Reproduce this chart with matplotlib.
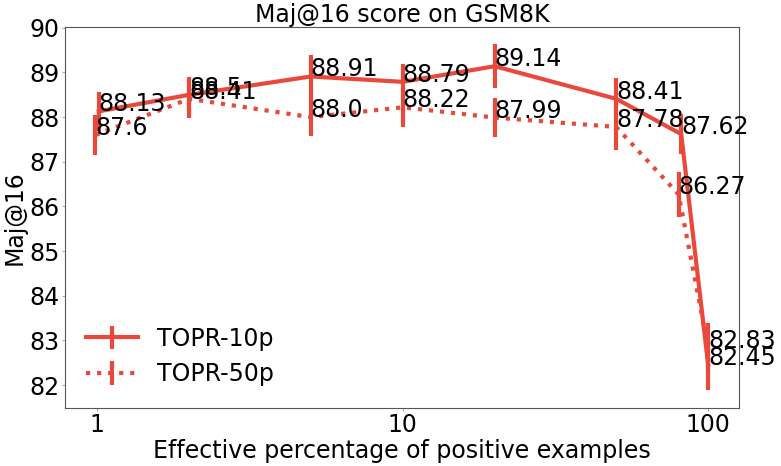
import matplotlib
matplotlib.use("Agg")
import matplotlib.pyplot as plt
from matplotlib.ticker import FixedLocator, FixedFormatter, NullLocator, MultipleLocator

x_10p = [1.012, 2, 5, 10, 20, 50, 81.6, 100]
y_10p = [88.13, 88.5, 88.91, 88.79, 89.14, 88.41, 87.62, 82.45]
e_10p = [0.44, 0.39, 0.48, 0.41, 0.49, 0.46, 0.45, 0.57]

x_50p = [0.987, 2, 5, 10, 20, 50, 80, 100]
y_50p = [87.6, 88.41, 88.0, 88.22, 87.99, 87.78, 86.27, 82.83]
e_50p = [0.44, 0.42, 0.43, 0.44, 0.44, 0.51, 0.5, 0.56]

xticks = [1, 10, 100]
xticklabels = ["1", "10", "100"]

color = "#e8493b"
fs = 17

fig, ax = plt.subplots(figsize=(7.81, 4.66), dpi=100)
ax.errorbar(x_10p, y_10p, yerr=e_10p, color=color, lw=3, elinewidth=3,
            linestyle="-", label="TOPR-10p")
ax.errorbar(x_50p, y_50p, yerr=e_50p, color=color, lw=3, elinewidth=3,
            linestyle=":", label="TOPR-50p")
for xs, ys in ((x_10p, y_10p), (x_50p, y_50p)):
    for xv, yv in zip(xs, ys):
        ax.text(xv, yv, str(yv), fontsize=fs, color="black")

ax.set_xscale("log")
ax.xaxis.set_major_locator(FixedLocator(xticks))
ax.xaxis.set_major_formatter(FixedFormatter(xticklabels))
ax.xaxis.set_minor_locator(NullLocator())
ax.yaxis.set_major_locator(MultipleLocator(1))
ax.set_title("Maj@16 score on GSM8K", fontsize=fs, pad=3)
ax.set_xlabel("Effective percentage of positive examples", fontsize=fs, labelpad=2)
ax.set_ylabel("Maj@16", fontsize=fs, labelpad=2)
ax.tick_params(labelsize=fs, color="#aaaaaa", length=2, pad=1.5)
for s in ax.spines.values():
    s.set_color("#555555")
ax.legend(loc="lower left", frameon=False, fontsize=fs, handlelength=2.2)

fig.subplots_adjust(left=0.083, right=0.946, top=0.942, bottom=0.125)
fig.savefig("out.png", dpi=100)
